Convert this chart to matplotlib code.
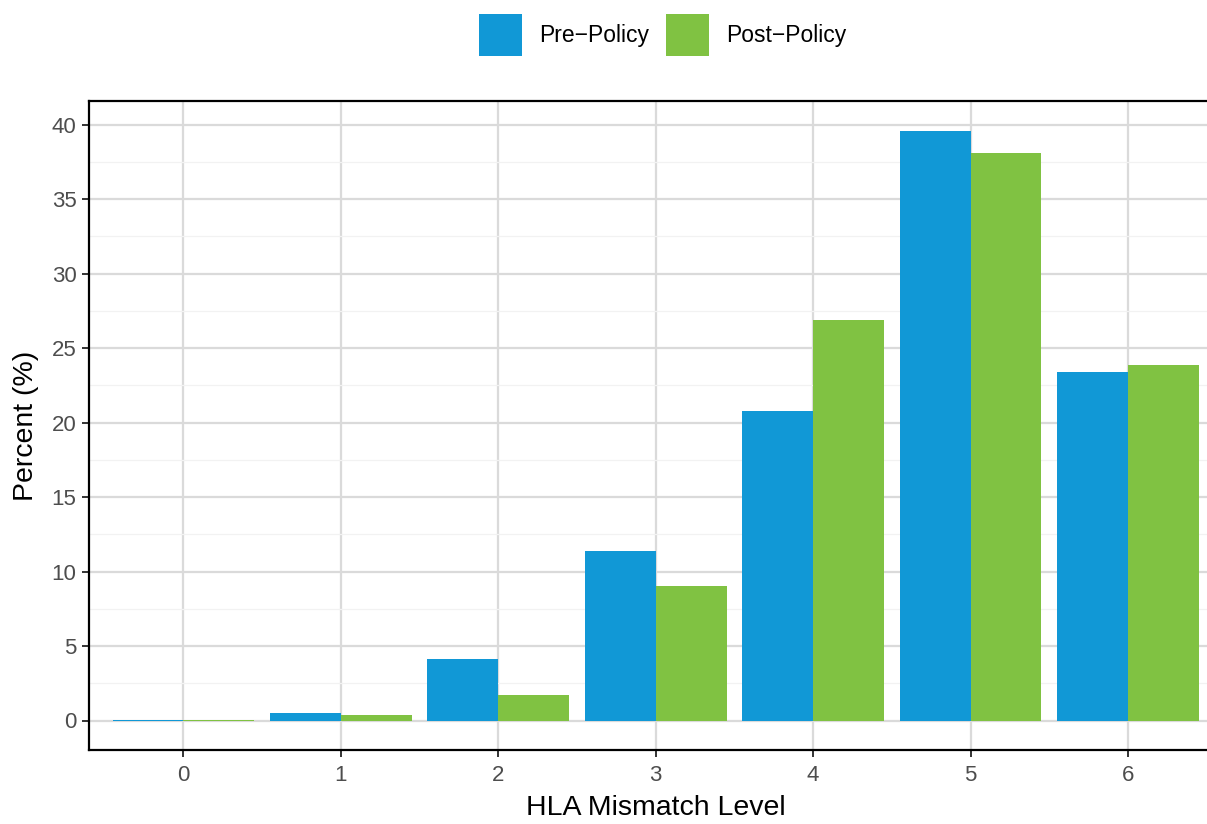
import matplotlib
matplotlib.use("Agg")
import matplotlib.pyplot as plt
import numpy as np

categories = ["0", "1", "2", "3", "4", "5", "6"]
pre_policy = [0.03, 0.47, 4.16, 11.41, 20.80, 39.60, 23.42]
post_policy = [0.03, 0.40, 1.68, 9.06, 26.85, 38.12, 23.83]
series_labels = ["Pre\u2212Policy", "Post\u2212Policy"]
yticks = [0, 5, 10, 15, 20, 25, 30, 35, 40]

plt.rcParams['font.family'] = ['Liberation Sans', 'DejaVu Sans']

W, H = 1207, 824
fig = plt.figure(figsize=(W / 100, H / 100), dpi=100)
left, right, top, bottom = 89, 1222.5, 101, 750
ax = fig.add_axes([left / W, (H - bottom) / H, (right - left) / W, (bottom - top) / H])

x = np.arange(len(categories))
bw = 0.45
blue = "#1198D6"
green = "#80C242"
b1 = ax.bar(x - bw / 2, pre_policy, width=bw, color=blue, label=series_labels[0], zorder=3)
b2 = ax.bar(x + bw / 2, post_policy, width=bw, color=green, label=series_labels[1], zorder=3)

ax.set_xlim(-0.6, 6.6)
ymax = max(max(pre_policy), max(post_policy))
ax.set_ylim(-0.05 * ymax, ymax * 1.05)
ax.set_xticks(x)
ax.set_xticklabels(categories)
ax.set_yticks(yticks)
ax.set_yticks(np.arange(2.5, 41, 5), minor=True)
ax.set_xticks([], minor=True)

ax.grid(True, which='major', color="#DADADA", linewidth=1.6, zorder=0)
ax.grid(True, which='minor', axis='y', color="#F2F2F2", linewidth=0.9, zorder=0)
ax.set_axisbelow(True)

for s in ax.spines.values():
    s.set_color("black")
    s.set_linewidth(1.6)

ax.tick_params(axis='both', which='major', colors="#333333", labelcolor="#4D4D4D",
               labelsize=16, length=5, width=1.4)
ax.tick_params(axis='x', which='major', pad=6)
ax.tick_params(axis='y', which='major', pad=4)
ax.tick_params(axis='both', which='minor', length=0)

ax.set_xlabel("HLA Mismatch Level", fontsize=20.5, color="black", labelpad=6)
ax.set_ylabel("Percent (%)", fontsize=20.5, color="black", labelpad=9)

fig.legend(handles=[b1, b2], labels=series_labels, loc='center', bbox_to_anchor=(663 / W, 1 - 35 / H),
           ncol=2, frameon=False, fontsize=16.5, handlelength=1.88, handleheight=2.4,
           handletextpad=0.74, columnspacing=0.74, borderpad=0)

fig.savefig("out.png", dpi=100)
